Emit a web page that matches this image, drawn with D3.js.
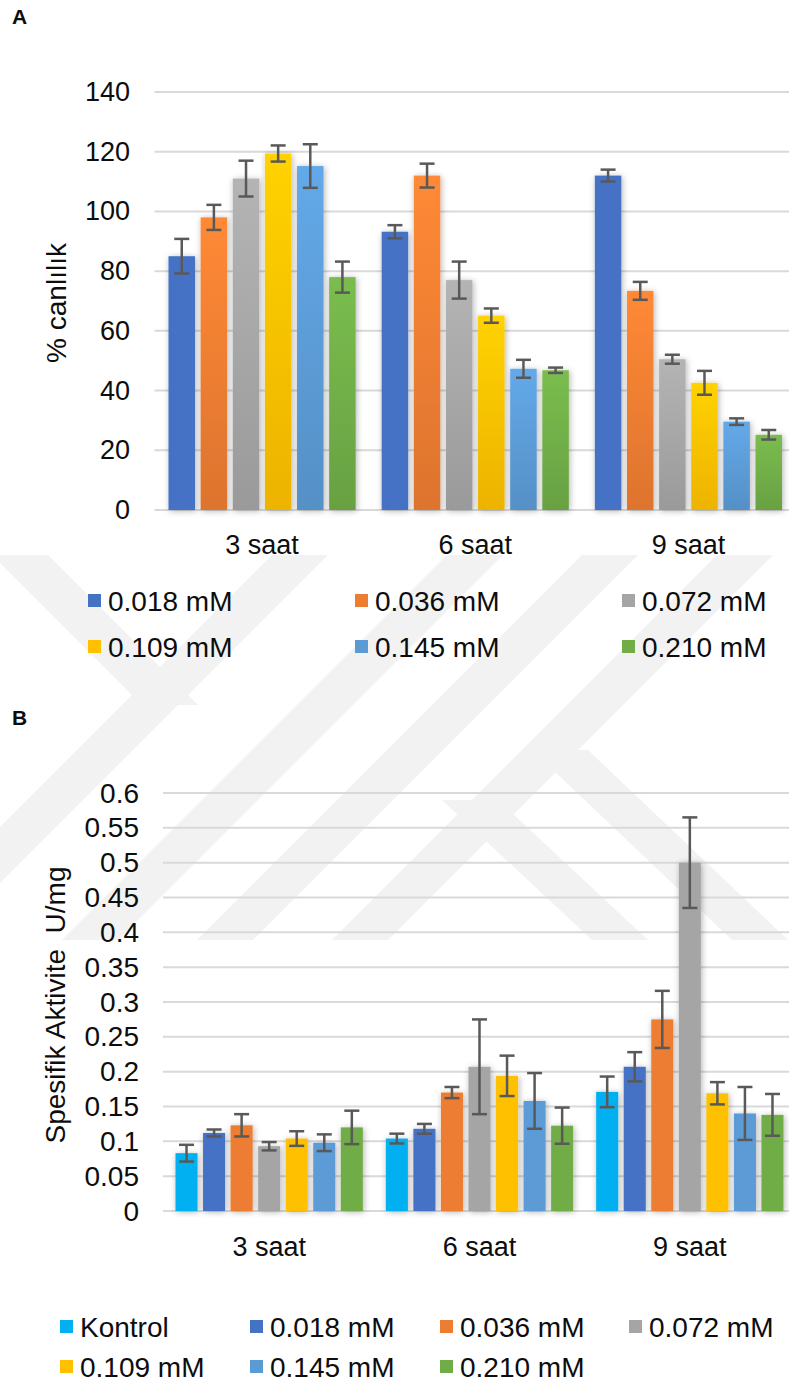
<!DOCTYPE html>
<html>
<head>
<meta charset="utf-8">
<script src="https://cdn.jsdelivr.net/npm/d3@7"></script>
<style>
  body { margin: 0; background: #fff; }
  svg text { font-family: "Liberation Sans", Arial, sans-serif; fill: #0d0d0d; }
</style>
</head>
<body>
<svg id="chart" width="789" height="1384"></svg>
<script>
// ---- data ----
const groups = ["3 saat", "6 saat", "9 saat"];

// panel A: % canlılık
const seriesA = ["0.018 mM", "0.036 mM", "0.072 mM", "0.109 mM", "0.145 mM", "0.210 mM"];
const viab3 = [85, 98, 111, 119.4, 115.2, 78];
const viab6 = [93.2, 112, 77, 65.1, 47.3, 46.8];
const viab9 = [112, 73.4, 50.5, 42.6, 29.6, 25.2];
const viabErr3 = [5.8, 4.2, 6, 2.7, 7.3, 5.2];
const viabErr6 = [2.2, 4, 6.2, 2.4, 3, 0.9];
const viabErr9 = [2, 3, 1.5, 4, 1.1, 1.6];
const ticksA = [0, 20, 40, 60, 80, 100, 120, 140];

// panel B: spesifik aktivite U/mg
const seriesB = ["Kontrol", "0.018 mM", "0.036 mM", "0.072 mM", "0.109 mM", "0.145 mM", "0.210 mM"];
const act3 = [0.083, 0.112, 0.123, 0.093, 0.104, 0.098, 0.120];
const act6 = [0.104, 0.118, 0.170, 0.207, 0.194, 0.158, 0.1225];
const act9 = [0.171, 0.207, 0.275, 0.5, 0.169, 0.140, 0.138];
const actErr3 = [0.012, 0.005, 0.016, 0.006, 0.0105, 0.012, 0.024];
const actErr6 = [0.007, 0.007, 0.008, 0.068, 0.029, 0.04, 0.026];
const actErr9 = [0.022, 0.021, 0.041, 0.065, 0.016, 0.038, 0.030];
const ticksB = [0, 0.05, 0.1, 0.15, 0.2, 0.25, 0.3, 0.35, 0.4, 0.45, 0.5, 0.55, 0.6];

const colorOf = {
  "Kontrol": "#00B0F0",
  "0.018 mM": "#4472C4",
  "0.036 mM": "#ED7D31",
  "0.072 mM": "#A5A5A5",
  "0.109 mM": "#FFC000",
  "0.145 mM": "#5B9BD5",
  "0.210 mM": "#70AD47"
};

const rowsA = [viab3, viab6, viab9].map((vals, gi) => vals.map((v, si) => ({
  group: groups[gi], key: seriesA[si], value: v, err: [viabErr3, viabErr6, viabErr9][gi][si]
})));
const rowsB = [act3, act6, act9].map((vals, gi) => vals.map((v, si) => ({
  group: groups[gi], key: seriesB[si], value: v, err: [actErr3, actErr6, actErr9][gi][si]
})));

const svg = d3.select("#chart");
const defs = svg.append("defs");

// soft shadow like the office charts
const f = defs.append("filter").attr("id", "shadow")
  .attr("x", "-40%").attr("y", "-10%").attr("width", "180%").attr("height", "120%");
f.append("feDropShadow").attr("dx", 1).attr("dy", 1).attr("stdDeviation", 3)
  .attr("flood-color", "#000").attr("flood-opacity", 0.3);

// vertical gradients for panel A
seriesA.forEach((s, i) => {
  const c = d3.color(colorOf[s]);
  const g = defs.append("linearGradient").attr("id", "gradA" + i)
    .attr("x1", 0).attr("y1", 0).attr("x2", 0).attr("y2", 1);
  g.append("stop").attr("offset", "0%").attr("stop-color", i === 0 ? c : c.brighter(0.25));
  g.append("stop").attr("offset", "100%").attr("stop-color", i === 0 ? c : c.darker(0.2));
});

// faint watermark in the background
const wm = svg.append("g").attr("fill", "#f2f2f2");
defs.append("clipPath").attr("id", "wmclip")
  .append("rect").attr("x", 0).attr("y", 555).attr("width", 789).attr("height", 385);
wm.attr("clip-path", "url(#wmclip)");
const slash = (c, w) => { // "/" band, c = centre at y=620
  const x = y => c - (y - 620);
  return [[x(540) - w / 2, 540], [x(540) + w / 2, 540], [x(940) + w / 2, 940], [x(940) - w / 2, 940]];
};
const back = (x0, y0, x1, y1, w) => [[x0 - w / 2, y0], [x0 + w / 2, y0], [x1 + w / 2, y1], [x1 - w / 2, y1]];
[slash(235, 56), slash(410, 56), slash(545, 56), slash(680, 56),
 back(10, 545, 170, 705, 56), back(470, 800, 620, 940, 56), back(560, 750, 760, 940, 56)]
  .forEach(p => wm.append("polygon").attr("points", p.join(" ")));

function drawPanel(o) {
  const g = svg.append("g");
  const x0 = d3.scaleBand().domain(groups).range(o.xRange);
  const x1 = d3.scaleBand().domain(o.series)
    .range([o.pad, x0.bandwidth() - o.pad]).paddingInner(o.inner);
  const y = d3.scaleLinear().domain(o.yDomain).range(o.yRange);

  // grid
  g.append("g").selectAll("line").data(o.ticks).join("line")
    .attr("x1", o.xRange[0] - 1).attr("x2", 789)
    .attr("y1", d => y(d)).attr("y2", d => y(d))
    .attr("stroke", "#d9d9d9").attr("stroke-width", 2);

  // tick labels
  g.append("g").selectAll("text").data(o.ticks).join("text")
    .attr("x", o.tickX).attr("y", d => y(d))
    .attr("text-anchor", "end").attr("dominant-baseline", "central")
    .style("font-size", o.tickSize + "px")
    .text(d => String(+d.toFixed(2)));

  // bars
  const gg = g.append("g").selectAll("g").data(o.rows).join("g")
    .attr("transform", d => `translate(${x0(d[0].group)},0)`);
  gg.selectAll("rect").data(d => d).join("rect")
    .attr("x", d => x1(d.key)).attr("width", x1.bandwidth())
    .attr("y", d => y(d.value)).attr("height", d => y(0) - y(d.value))
    .attr("fill", d => o.fill(d)).attr("filter", "url(#shadow)");

  // error bars
  const eb = gg.selectAll("g.eb").data(d => d).join("g").attr("class", "eb")
    .attr("stroke", "#595959").attr("stroke-width", 2.5);
  const cx = d => x1(d.key) + x1.bandwidth() / 2;
  eb.append("line").attr("x1", cx).attr("x2", cx)
    .attr("y1", d => y(d.value + d.err)).attr("y2", d => y(d.value - d.err));
  [1, -1].forEach(s => eb.append("line")
    .attr("x1", d => cx(d) - o.cap).attr("x2", d => cx(d) + o.cap)
    .attr("y1", d => y(d.value + s * d.err)).attr("y2", d => y(d.value + s * d.err)));

  // category labels
  g.append("g").selectAll("text").data(groups).join("text")
    .attr("x", d => x0(d) + x0.bandwidth() / 2).attr("y", o.catY)
    .attr("text-anchor", "middle").style("font-size", "27px").text(d => d);

  // y title
  g.append("text")
    .attr("transform", `translate(${o.titleX},${o.titleY}) rotate(-90)`)
    .attr("text-anchor", "middle").attr("dominant-baseline", "central")
    .style("font-size", "28px").style("white-space", "pre").text(o.title);

  // panel letter
  g.append("text").attr("x", 12).attr("y", o.letterY)
    .style("font-size", "21px").style("font-weight", "bold").text(o.letter);

  // legend
  const lg = g.append("g").selectAll("g").data(o.series).join("g")
    .attr("transform", (d, i) => `translate(${o.legCols[i % o.legCols.length]},${o.legRows[Math.floor(i / o.legCols.length)]})`);
  lg.append("rect").attr("x", 0).attr("y", -7).attr("width", 13).attr("height", 13)
    .attr("fill", d => colorOf[d]);
  lg.append("text").attr("x", 20).attr("y", 0).attr("dominant-baseline", "central")
    .style("font-size", "28px").text(d => d);
}

drawPanel({
  series: seriesA, rows: rowsA, ticks: ticksA,
  xRange: [155.5, 795], yDomain: [0, 140], yRange: [510, 92],
  pad: 13, inner: 0.175, cap: 7.5,
  fill: d => `url(#gradA${seriesA.indexOf(d.key)})`,
  tickX: 130, tickSize: 27, catY: 554,
  title: "% canlılık", titleX: 56, titleY: 303,
  letter: "A", letterY: 24,
  legCols: [88, 355, 622], legRows: [601, 647]
});

drawPanel({
  series: seriesB, rows: rowsB, ticks: ticksB,
  xRange: [164, 795], yDomain: [0, 0.6], yRange: [1211, 793],
  pad: 11.5, inner: 0.2, cap: 7.5,
  fill: d => colorOf[d.key],
  tickX: 139, tickSize: 28, catY: 1256,
  title: "Spesifik Aktivite  U/mg", titleX: 55, titleY: 1005,
  letter: "B", letterY: 725,
  legCols: [60, 250, 440, 629], legRows: [1327, 1367]
});
</script>
</body>
</html>
